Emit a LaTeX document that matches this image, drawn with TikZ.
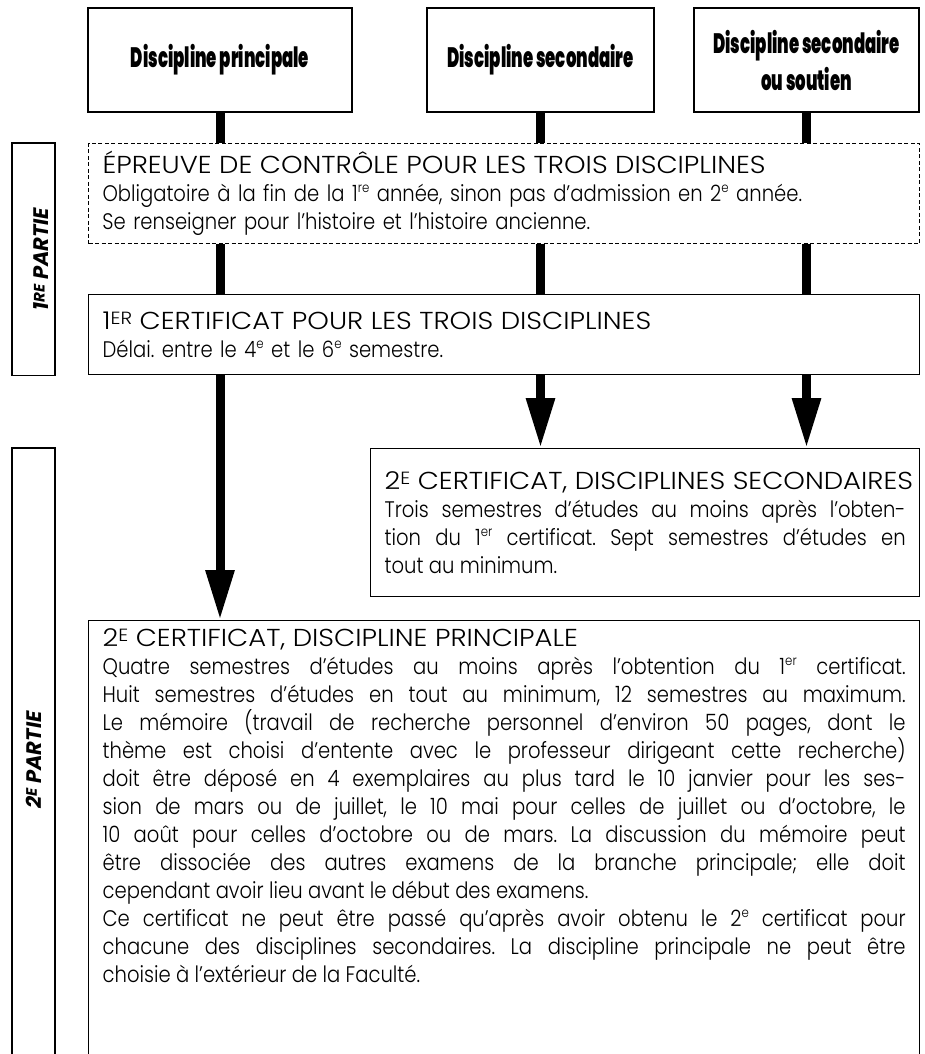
\documentclass[tikz,border=0pt]{standalone}
\usepackage{fontspec}
\IfFontExistsTF{Poppins Light}{\setmainfont{Poppins Light}[FakeStretch=0.87]}{\setmainfont{Poppins}[FakeStretch=0.87]}
\IfFontExistsTF{Poppins Light}{\newfontfamily\titlefont{Poppins Light}[FakeStretch=1.12]}{\newfontfamily\titlefont{Poppins}[FakeStretch=1.12]}
\IfFontExistsTF{Poppins ExtraBold}{\newfontfamily\headfont{Poppins ExtraBold}[FakeStretch=0.59]}{\newfontfamily\headfont{Poppins}[FakeStretch=0.61]}
\newfontfamily\partfont{Poppins}
\usetikzlibrary{arrows.meta,positioning,calc,fit}
\newcommand{\expo}[1]{\raisebox{0.4em}{\scalebox{0.6}{#1}}}
\newcommand{\petitcap}[1]{\raisebox{0.2em}{\scalebox{0.72}{#1}}}
\newcommand{\titre}[1]{{\titlefont\fontsize{24.5}{28}\selectfont\mbox{#1}}}
\tikzset{
  discbox/.style={draw, line width=1.3pt, minimum height=104pt, inner sep=0pt, align=center,
    font=\headfont\bfseries\fontsize{28}{37}\selectfont},
  infobox/.style={draw, line width=1.3pt, anchor=north west, inner xsep=14pt, inner ysep=6pt,
    font=\fontsize{22.5}{28}\selectfont,
    execute at begin node={\frenchspacing\hyphenpenalty=10000 \tolerance=10000 \hbadness=10000}},
  barre/.style={line width=9pt},
  fleche/.style={line width=9pt, -{Triangle[width=27pt,length=50pt]}},
  partbox/.style={draw, line width=1.3pt, inner sep=0pt},
  partlabel/.style={rotate=90, font=\partfont\bfseries\itshape\fontsize{21}{21}\selectfont}
}
\begin{document}
\begin{tikzpicture}[x=1pt,y=-1pt]
\useasboundingbox (0,0) rectangle (925,1054);
% ==========================================
\node[discbox, minimum width=264pt] (prin) at (220,60) {Discipline principale};
\node[discbox, minimum width=227pt] (sec) at (540.5,60) {Discipline secondaire};
\node[discbox, minimum width=225pt] (sout) at (806.5,60) {Discipline secondaire\\ou soutien};
%
\node[infobox, dash pattern=on 4pt off 2.5pt, line width=1pt, minimum height=100pt, text width=803pt, align=left] (epreuve) at (88,143) {%
\titre{ÉPREUVE DE CONTRÔLE POUR LES TROIS DISCIPLINES}\\
Obligatoire à la fin de la 1\expo{re} année, sinon pas d'admission en 2\expo{e} année.\\
Se renseigner pour l'histoire et l'histoire ancienne.};
\node[infobox, minimum height=80pt, text width=803pt, align=left] (cert) at (88,294) {%
\titre{1\petitcap{ER} CERTIFICAT POUR LES TROIS DISCIPLINES}\\
Délai. entre le 4\expo{e} et le 6\expo{e} semestre.};
\node[infobox, minimum height=148pt, text width=521pt, align=justify] (certsec) at (370,448) {%
\titre{2\petitcap{E} CERTIFICAT, DISCIPLINES SECONDAIRES}\\
Trois semestres d'études au moins après l'obten-\linebreak
tion du 1\expo{er} certificat. Sept semestres d'études en\linebreak
tout au minimum.};
\node[infobox, inner ysep=8pt, text width=803pt, align=justify] (certprin) at (88,620) {%
\titre{2\petitcap{E} CERTIFICAT, DISCIPLINE PRINCIPALE}\\
Quatre semestres d'études au moins après l'obtention du 1\expo{er} certificat.\linebreak
Huit semestres d'études en tout au minimum, 12 semestres au maximum.\linebreak
Le mémoire (travail de recherche personnel d'environ 50 pages, dont le\linebreak
thème est choisi d'entente avec le professeur dirigeant cette recherche)\linebreak
doit être déposé en 4 exemplaires au plus tard le 10 janvier pour les ses-\linebreak
sion de mars ou de juillet, le 10 mai pour celles de juillet ou d'octobre, le\linebreak
10 août pour celles d'octobre ou de mars. La discussion du mémoire peut\linebreak
être dissociée des autres examens de la branche principale; elle doit\linebreak
cependant avoir lieu avant le début des examens.\\
Ce certificat ne peut être passé qu'après avoir obtenu le 2\expo{e} certificat pour\linebreak
chacune des disciplines secondaires. La discipline principale ne peut être\linebreak
choisie à l'extérieur de la Faculté.\rule[-80pt]{0pt}{80pt}};
%
\draw[barre] (prin.south) -- (prin.south |- epreuve.north);
\draw[barre] (sec.south) -- (sec.south |- epreuve.north);
\draw[barre] (sout.south) -- (sout.south |- epreuve.north);
\draw[barre] (prin.south |- epreuve.south) -- (prin.south |- cert.north);
\draw[barre] (sec.south |- epreuve.south) -- (sec.south |- cert.north);
\draw[barre] (sout.south |- epreuve.south) -- (sout.south |- cert.north);
%
\draw[fleche] (prin.south |- cert.south) -- (prin.south |- certprin.north);%Arrow.
\draw[fleche] (sec.south |- cert.south) -- (sec.south |- certsec.north);%Arrow.
\draw[fleche] (sout.south |- cert.south) -- (sout.south |- certsec.north);%Arrow.
%
\node[partbox, fit={(12,0 |- epreuve.north) (55,0 |- cert.south)}] (part1) {};
\node[partlabel, yshift=-8pt] (lab1) at (part1.center) {1\petitcap{RE} PARTIE};
\node[partbox, fit={(12,0 |- certsec.north) (55,1080)}] (part2) {};
\node[partlabel] (lab2) at (33.5,760) {2\petitcap{E} PARTIE};
% =============================================
\end{tikzpicture}
\end{document}
